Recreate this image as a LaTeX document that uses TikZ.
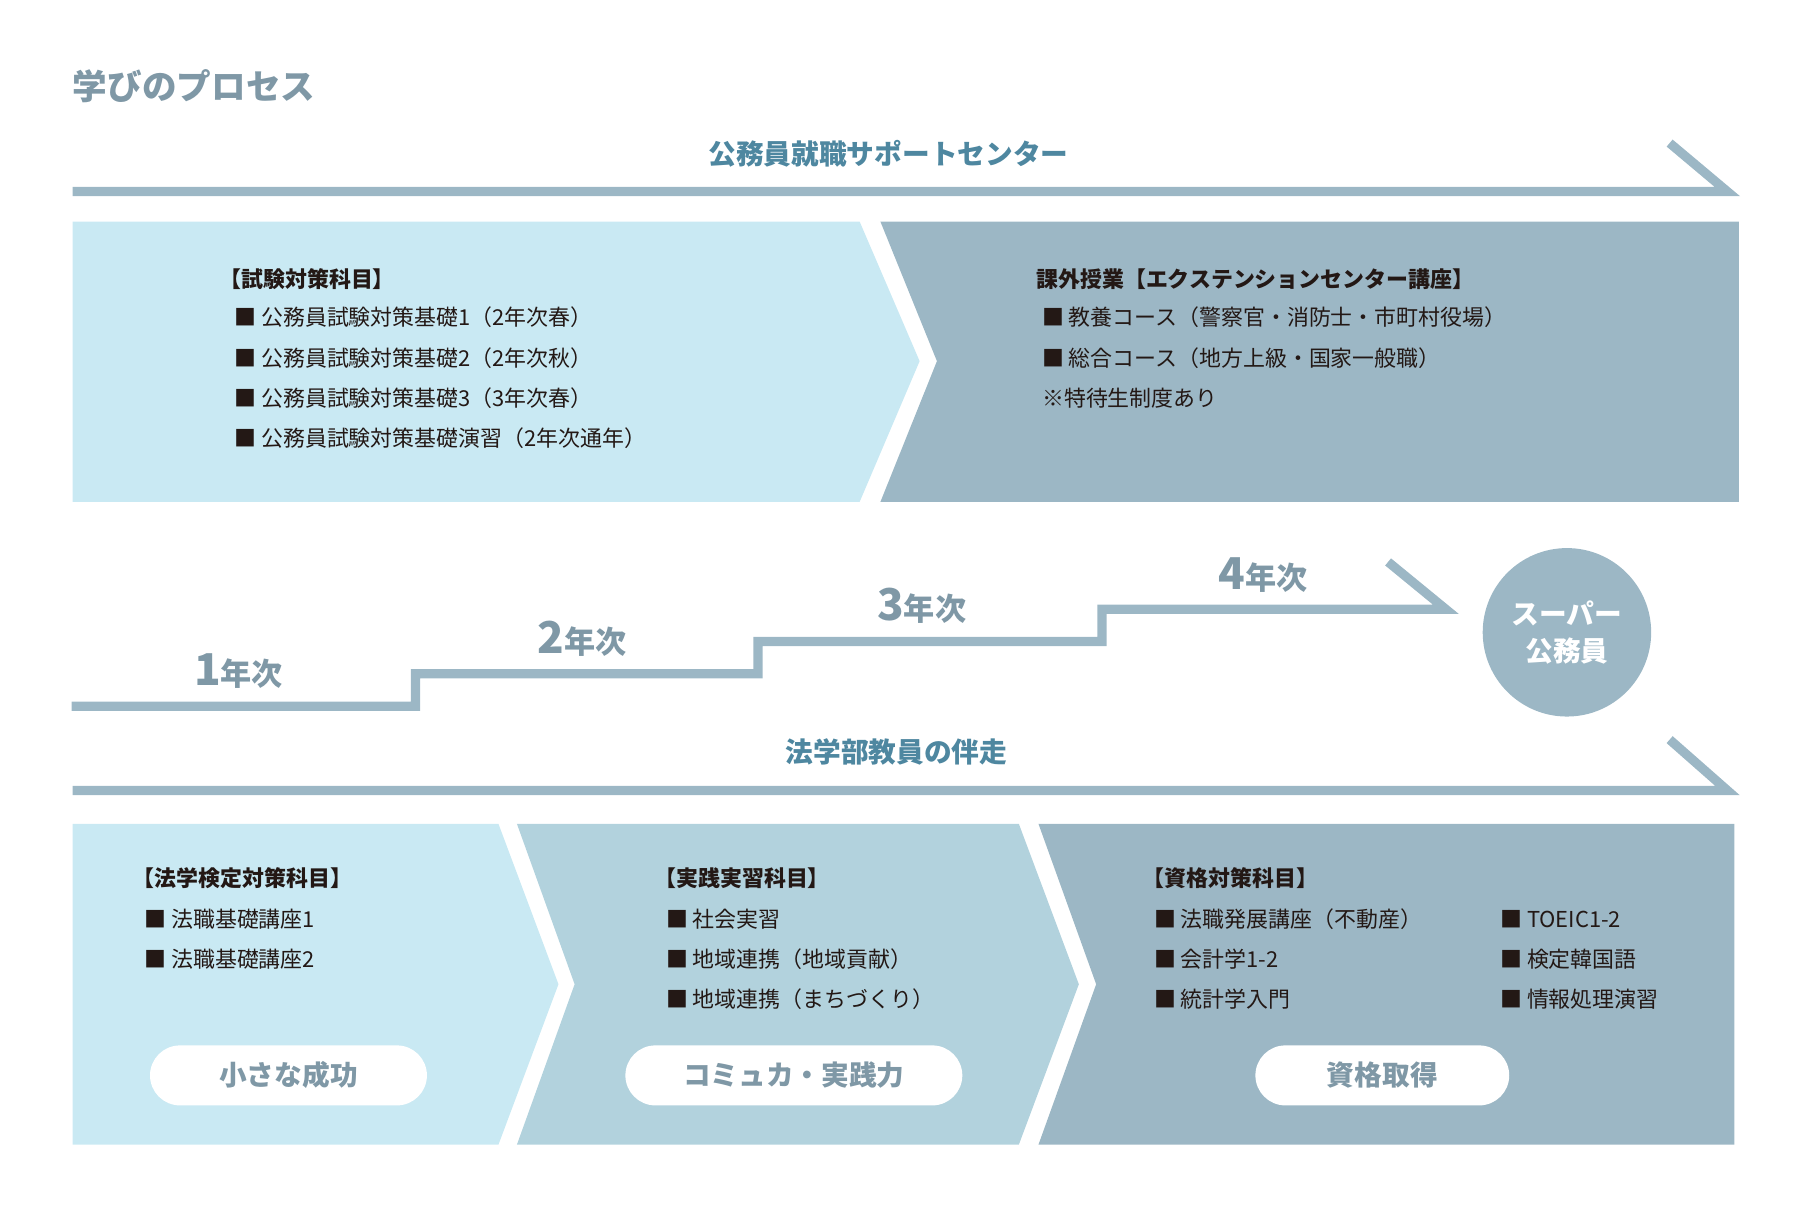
\documentclass[tikz,border=0pt]{standalone}
\usepackage{fontspec}
\setmainfont{Noto Sans CJK JP}
\usepackage{tikz}
\usetikzlibrary{arrows,positioning}
\definecolor{paleblue}{HTML}{C9E9F3}
\definecolor{midblue}{HTML}{B2D2DD}
\definecolor{greyblue}{HTML}{9CB7C5}
\definecolor{headblue}{HTML}{4E87A0}
\definecolor{stepgrey}{HTML}{7F98A6}
\definecolor{ink}{HTML}{231815}

\begin{document}
\begin{tikzpicture}[x=1pt,y=-1pt]
    \tikzstyle{band}=[draw=greyblue,line width=8pt]
    \tikzstyle{bandtitle}=[text=headblue,font=\fontsize{24}{28}\selectfont\bfseries]
    \tikzstyle{head}=[anchor=west,text=ink,font=\fontsize{19}{22}\selectfont\bfseries,inner sep=0pt]
    \tikzstyle{item}=[anchor=west,text=ink,font=\fontsize{19}{22}\selectfont,inner sep=0pt]
    \tikzstyle{yearlbl}=[anchor=base west,text=stepgrey,font=\fontsize{27}{30}\selectfont\bfseries,inner sep=0pt]
    \tikzstyle{pill}=[fill=white,rounded corners=26pt,minimum height=52pt,text=stepgrey,font=\fontsize{24}{28}\selectfont\bfseries]
    \def\big#1{{\fontsize{38}{40}\selectfont #1}}

    \useasboundingbox (0,0) rectangle (1560,1047);

    % Title
    \node[anchor=west,text=stepgrey,font=\fontsize{30}{34}\selectfont\bfseries,inner sep=0pt] (title) at (63,75) {学びのプロセス};

    % Upper band
    \node[bandtitle] (support) at (770,133) {公務員就職サポートセンター};
    \coordinate (sa) at (63,166);
    \coordinate (sb) at (1497,166);
    \coordinate (sc) at (1447,124);
    \draw[band] (sa) -- (sb) -- (sc);

    % Upper boxes
    \fill[paleblue] (63,192) -- (745,192) -- (797,313) -- (745,435) -- (63,435) -- cycle;
    \fill[greyblue] (763,192) -- (1507,192) -- (1507,435) -- (763,435) -- (812,313) -- cycle;

    \node[head] (exam) at (190,242) {【試験対策科目】};
    \foreach \name/\txt [count=\i] in {e1/公務員試験対策基礎1（2年次春）,e2/公務員試験対策基礎2（2年次秋）,
        e3/公務員試験対策基礎3（3年次春）,e4/公務員試験対策基礎演習（2年次通年）}
        \node[item] (\name) at (203,240+35*\i) {■ \txt};

    \node[head] (extra) at (898,242) {課外授業【エクステンションセンター講座】};
    \node[item] (x1) at (903,275) {■ 教養コース（警察官・消防士・市町村役場）};
    \node[item] (x2) at (903,310) {■ 総合コース（地方上級・国家一般職）};
    \node[item] (x3) at (903,345) {※特待生制度あり};

    % Steps
    \coordinate (st0) at (62,612);
    \coordinate (st4) at (1253,528);
    \coordinate (sth) at (1203,487);
    \draw[band] (st0) -- (360,612) -- (360,584) -- (657,584) -- (657,556)
        -- (955,556) -- (955,528) -- (st4) -- (sth);
    \node[yearlbl] (y1) at (168,594) {\big{1}年次};
    \node[yearlbl] (y2) at (466,566) {\big{2}年次};
    \node[yearlbl] (y3) at (760,538) {\big{3}年次};
    \node[yearlbl] (y4) at (1056,511) {\big{4}年次};

    \node[circle,fill=greyblue,minimum size=146pt,text=white,align=center,
        font=\fontsize{24}{32}\selectfont\bfseries] (super) at (1358,548) {スーパー\\公務員};

    % Lower band
    \node[bandtitle] (faculty) at (777,652) {法学部教員の伴走};
    \coordinate (fa) at (63,685);
    \coordinate (fb) at (1497,685);
    \coordinate (fc) at (1447,641);
    \draw[band] (fa) -- (fb) -- (fc);

    % Lower boxes
    \fill[paleblue] (63,714) -- (432,714) -- (484,853) -- (432,992) -- (63,992) -- cycle;
    \fill[midblue] (448,714) -- (883,714) -- (935,853) -- (883,992) -- (448,992) -- (498,853) -- cycle;
    \fill[greyblue] (900,714) -- (1503,714) -- (1503,992) -- (900,992) -- (950,853) -- cycle;

    \node[head] (law) at (115,761) {【法学検定対策科目】};
    \node[item] (l1) at (125,797) {■ 法職基礎講座1};
    \node[item] (l2) at (125,831) {■ 法職基礎講座2};

    \node[head] (prac) at (567,761) {【実践実習科目】};
    \node[item] (p1) at (577,797) {■ 社会実習};
    \node[item] (p2) at (577,831) {■ 地域連携（地域貢献）};
    \node[item] (p3) at (577,866) {■ 地域連携（まちづくり）};

    \node[head] (qual) at (990,761) {【資格対策科目】};
    \node[item] (q1) at (1000,797) {■ 法職発展講座（不動産）};
    \node[item] (q2) at (1000,831) {■ 会計学1-2};
    \node[item] (q3) at (1000,866) {■ 統計学入門};
    \node[item] (q4) at (1300,797) {■ TOEIC1-2};
    \node[item] (q5) at (1300,831) {■ 検定韓国語};
    \node[item] (q6) at (1300,866) {■ 情報処理演習};

    % Goals
    \node[pill,minimum width=240pt] (g1) at (250,932) {小さな成功};
    \node[pill,minimum width=292pt] (g2) at (688,932) {コミュカ・実践力};
    \node[pill,minimum width=220pt] (g3) at (1198,932) {資格取得};

\end{tikzpicture}
\end{document}
